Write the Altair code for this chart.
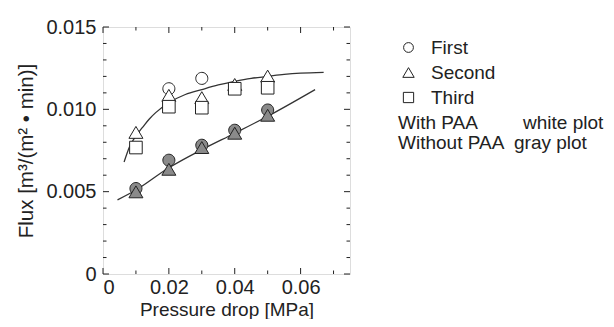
import altair as alt
import pandas as pd

# ---- data ----
pressure = [0.01, 0.02, 0.03, 0.04, 0.05]

with_first_x = [0.02, 0.03]
with_first_y = [0.01125, 0.01188]
with_second_y = [0.0086, 0.01085, 0.01071, 0.01151, 0.01202]
with_third_y = [0.00768, 0.01016, 0.0101, 0.01125, 0.01131]

without_first_y = [0.00519, 0.00691, 0.00782, 0.00873, 0.00996]
without_second_y = [0.00499, 0.00636, 0.00768, 0.00855, 0.00964]

fit_with_x = [0.0064, 0.008, 0.010, 0.012, 0.014, 0.016, 0.020, 0.025, 0.030,
              0.035, 0.040, 0.045, 0.050, 0.055, 0.060, 0.067]
fit_with_y = [0.0068, 0.0077, 0.0084, 0.0089, 0.0094, 0.0098, 0.0104, 0.0109,
              0.0112, 0.01148, 0.0117, 0.01188, 0.0120, 0.01212, 0.0122, 0.01225]
fit_without_x = [0.0044, 0.01, 0.02, 0.03, 0.04, 0.05, 0.0644]
fit_without_y = [0.0045, 0.0051, 0.00645, 0.00755, 0.00855, 0.00958, 0.0112]

series_names = ["First", "Second", "Third"]
x_major = [0, 0.02, 0.04, 0.06]
x_minor = [0.01, 0.03, 0.05, 0.07]
y_major = [0, 0.005, 0.010, 0.015]
y_minor = [0.001, 0.002, 0.003, 0.004, 0.006, 0.007, 0.008, 0.009,
           0.011, 0.012, 0.013, 0.014]
notes_left = ["With PAA", "Without PAA"]
notes_right = ["white plot", "gray plot"]

# ---- tables ----
rows = []
for x, y in zip(with_first_x, with_first_y):
    rows.append(dict(x=x, y=y, series="First", paa="with"))
for x, y in zip(pressure, with_second_y):
    rows.append(dict(x=x, y=y, series="Second", paa="with"))
for x, y in zip(pressure, with_third_y):
    rows.append(dict(x=x, y=y, series="Third", paa="with"))
for x, y in zip(pressure, without_first_y):
    rows.append(dict(x=x, y=y, series="First", paa="without"))
for x, y in zip(pressure, without_second_y):
    rows.append(dict(x=x, y=y, series="Second", paa="without"))
pts = pd.DataFrame(rows)
pts["o"] = range(len(pts))

fits = pd.concat([
    pd.DataFrame(dict(x=fit_with_x, y=fit_with_y, c="with")),
    pd.DataFrame(dict(x=fit_without_x, y=fit_without_y, c="without")),
])

W, H = 247, 247
INK = "#222222"
FONT = "Liberation Sans"
X_TITLE = "Pressure drop [MPa]"
Y_TITLE = "Flux [m³/(m² • min)]"

# marker outlines in the unit box [-1, 1]
CIRCLE = "M-0.86,0A0.86,0.86 0 1,0 0.86,0A0.86,0.86 0 1,0 -0.86,0Z"
TRIANGLE = "M0,-0.85L1,0.85L-1,0.85Z"
SQUARE = "M-0.9,-0.9L0.9,-0.9L0.9,0.9L-0.9,0.9Z"

xs = alt.Scale(domain=[0, 0.075], nice=False, zero=False)
ys = alt.Scale(domain=[0, 0.015], nice=False, zero=False)

x_axis = alt.Axis(values=x_major, ticks=False, domain=False, grid=False,
                  labelExpr="datum.value == 0 ? '0' : format(datum.value, '.2f')",
                  labelFontSize=20, labelPadding=3, labelColor=INK,
                  titleFontSize=19, titleFontWeight="normal", titlePadding=3,
                  titleColor=INK, labelFont=FONT, titleFont=FONT)
y_axis = alt.Axis(values=y_major, ticks=False, domain=False, grid=False,
                  labelExpr="datum.value == 0 ? '0' : format(datum.value, '.3f')",
                  labelFontSize=20, labelPadding=7, labelColor=INK,
                  titleFontSize=20.5, titleFontWeight="normal", titlePadding=9,
                  titleColor=INK, labelFont=FONT, titleFont=FONT)


def X(field):
    return alt.X(field, scale=xs, title=X_TITLE, axis=x_axis)


def Y(field):
    return alt.Y(field, scale=ys, title=Y_TITLE, axis=y_axis)


lines = alt.Chart(fits).mark_line(color="#333333", strokeWidth=1.3, interpolate="monotone").encode(
    x=X("x:Q"), y=Y("y:Q"), detail="c:N",
)

points = alt.Chart(pts).mark_point(filled=True, size=196, stroke=INK, strokeWidth=1, opacity=1).encode(
    x=X("x:Q"), y=Y("y:Q"),
    shape=alt.Shape("series:N",
                    scale=alt.Scale(domain=series_names, range=[CIRCLE, TRIANGLE, SQUARE]),
                    legend=alt.Legend(title=None, orient="none", legendX=296, legendY=11,
                                      labelFontSize=19, labelFont=FONT, labelColor=INK,
                                      symbolSize=130, symbolFillColor="white",
                                      symbolStrokeColor=INK, symbolStrokeWidth=1,
                                      labelOffset=13, rowPadding=5, padding=0)),
    fill=alt.Fill("paa:N", scale=alt.Scale(domain=["with", "without"], range=["white", "#8a8a8a"]),
                  legend=None),
    order="o:Q",
)


def xticks(vals, length):
    d = pd.DataFrame(dict(v=vals))
    b = alt.Chart(d).mark_rule(color=INK, strokeWidth=1)
    bottom = b.encode(x=X("v:Q"), y=alt.value(H), y2=alt.value(H - length))
    top = b.encode(x=X("v:Q"), y=alt.value(0), y2=alt.value(length))
    return [bottom, top]


def yticks(vals, length):
    d = pd.DataFrame(dict(v=vals))
    b = alt.Chart(d).mark_rule(color=INK, strokeWidth=1)
    left = b.encode(y=Y("v:Q"), x=alt.value(0), x2=alt.value(length))
    right = b.encode(y=Y("v:Q"), x=alt.value(W - length), x2=alt.value(W))
    return [left, right]


def note(text, xpos, ypos):
    return alt.Chart(pd.DataFrame(dict(t=[text]))).mark_text(
        align="left", baseline="middle", fontSize=19, font=FONT, color=INK
    ).encode(text="t:N", x=alt.value(xpos), y=alt.value(ypos))


layers = ([lines, points]
          + xticks(x_major, 6) + xticks(x_minor, 3.5) + yticks(y_major, 6) + yticks(y_minor, 3.5)
          + [note(notes_left[0], 295, 96), note(notes_right[0], 420, 96),
             note(notes_left[1], 295, 116), note(notes_right[1], 411, 116)])

chart = alt.layer(*layers).properties(
    width=W, height=H,
    autosize=alt.AutoSizeParams(type="none"),
    padding={"left": 95, "top": 19, "right": 256, "bottom": 45},
).configure_view(stroke=INK, strokeWidth=1.3).configure(font=FONT)

chart.save("out.html", embed_options={"renderer": "svg", "actions": False})
